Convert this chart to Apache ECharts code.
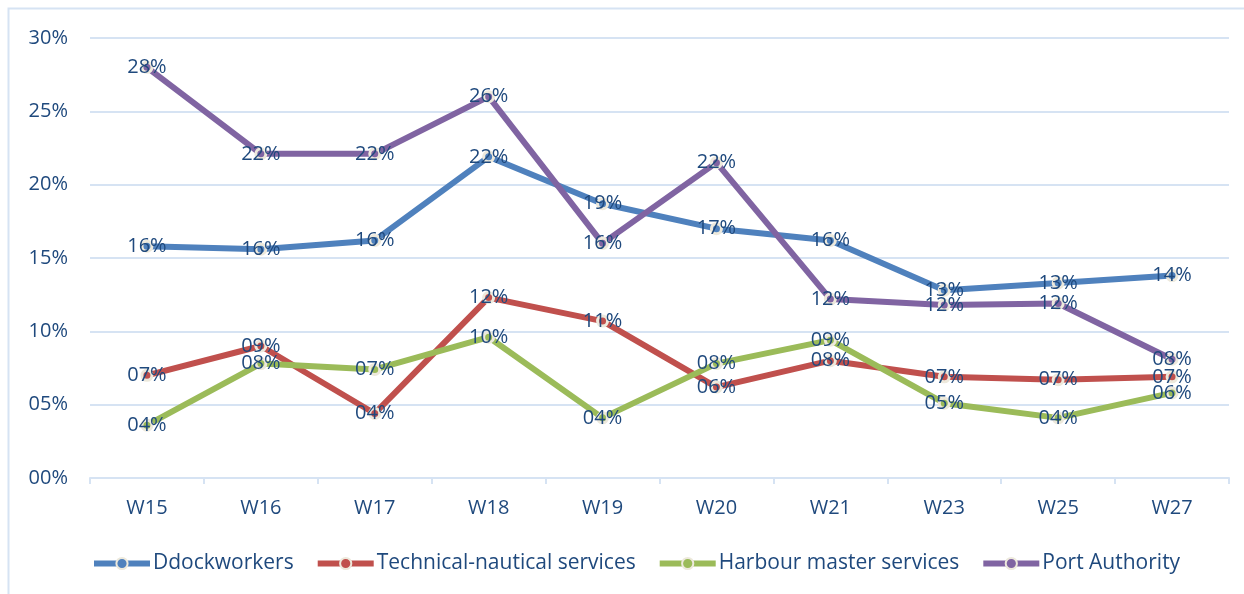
<!DOCTYPE html>
<html>
<head>
<meta charset="utf-8">
<script src="https://cdn.jsdelivr.net/npm/echarts@6/dist/echarts.min.js"></script>
<style>
  html, body { margin: 0; padding: 0; background: #ffffff; }
  #chart { width: 1244px; height: 594px; }
</style>
</head>
<body>
<div id="chart"></div>
<script>
// Weekly share of ports reporting a shortage, by personnel group (%)
const weeks = ['W15', 'W16', 'W17', 'W18', 'W19', 'W20', 'W21', 'W23', 'W25', 'W27'];
const dockworkers = [15.8, 15.6, 16.2, 21.9, 18.7, 17.0, 16.2, 12.8, 13.3, 13.8];
const technicalNautical = [7.0, 9.0, 4.4, 12.3, 10.7, 6.2, 8.0, 6.9, 6.7, 6.9];
const harbourMaster = [3.6, 7.8, 7.4, 9.6, 4.1, 7.8, 9.4, 5.1, 4.1, 5.8];
const portAuthority = [28.0, 22.1, 22.1, 26.0, 16.0, 21.5, 12.2, 11.8, 11.9, 8.1];
const seriesNames = ['Ddockworkers', 'Technical-nautical services', 'Harbour master services', 'Port Authority'];

const textColor = '#1f497d';
const gridColor = '#d6e3f3';
const fontFamily = '"Open Sans", Lato, sans-serif';
const pct = v => String(Math.round(v)).padStart(2, '0') + '%';

function lineSeries(name, data, color) {
  return {
    name: name,
    type: 'line',
    data: data,
    symbol: 'circle',
    symbolSize: 10,
    lineStyle: { color: color, width: 6 },
    itemStyle: { color: color, borderColor: '#ede9dc', borderWidth: 3 },
    label: {
      show: true,
      position: 'inside',
      formatter: p => pct(p.value),
      color: textColor,
      fontSize: 20,
      fontFamily: fontFamily
    },
    emphasis: { disabled: true },
    z: 2
  };
}

const chart = echarts.init(document.getElementById('chart'), null, { renderer: 'canvas' });
chart.setOption({
  animation: false,
  backgroundColor: '#ffffff',
  graphic: [{
    type: 'rect',
    shape: { x: 8.5, y: 8.5, width: 1240, height: 600 },
    style: { fill: 'none', stroke: '#d6e3f3', lineWidth: 2 },
    silent: true
  }],
  grid: { left: 90, right: 15, top: 38, bottom: 116, containLabel: false },
  legend: {
    bottom: 15,
    left: 86,
    itemWidth: 56,
    itemHeight: 14,
    itemGap: 21,
    lineStyle: { width: 6 },
    textStyle: { color: textColor, fontSize: 21, fontFamily: fontFamily, padding: [0, 0, 0, -2] },
    data: seriesNames
  },
  xAxis: {
    type: 'category',
    data: weeks,
    boundaryGap: true,
    axisLine: { lineStyle: { color: gridColor, width: 2 } },
    axisTick: { show: true, length: 6, lineStyle: { color: gridColor, width: 2 } },
    axisLabel: { color: textColor, fontSize: 20, fontFamily: fontFamily, margin: 20 }
  },
  yAxis: {
    type: 'value',
    min: 0,
    max: 30,
    interval: 5,
    axisLine: { show: false },
    axisTick: { show: false },
    axisLabel: { color: textColor, fontSize: 20, fontFamily: fontFamily, margin: 22, formatter: pct },
    splitLine: { lineStyle: { color: gridColor, width: 2 } }
  },
  series: [
    lineSeries(seriesNames[0], dockworkers, '#4f81bd'),
    lineSeries(seriesNames[1], technicalNautical, '#c0504d'),
    lineSeries(seriesNames[2], harbourMaster, '#9bbb59'),
    lineSeries(seriesNames[3], portAuthority, '#8064a2')
  ]
});
</script>
</body>
</html>
